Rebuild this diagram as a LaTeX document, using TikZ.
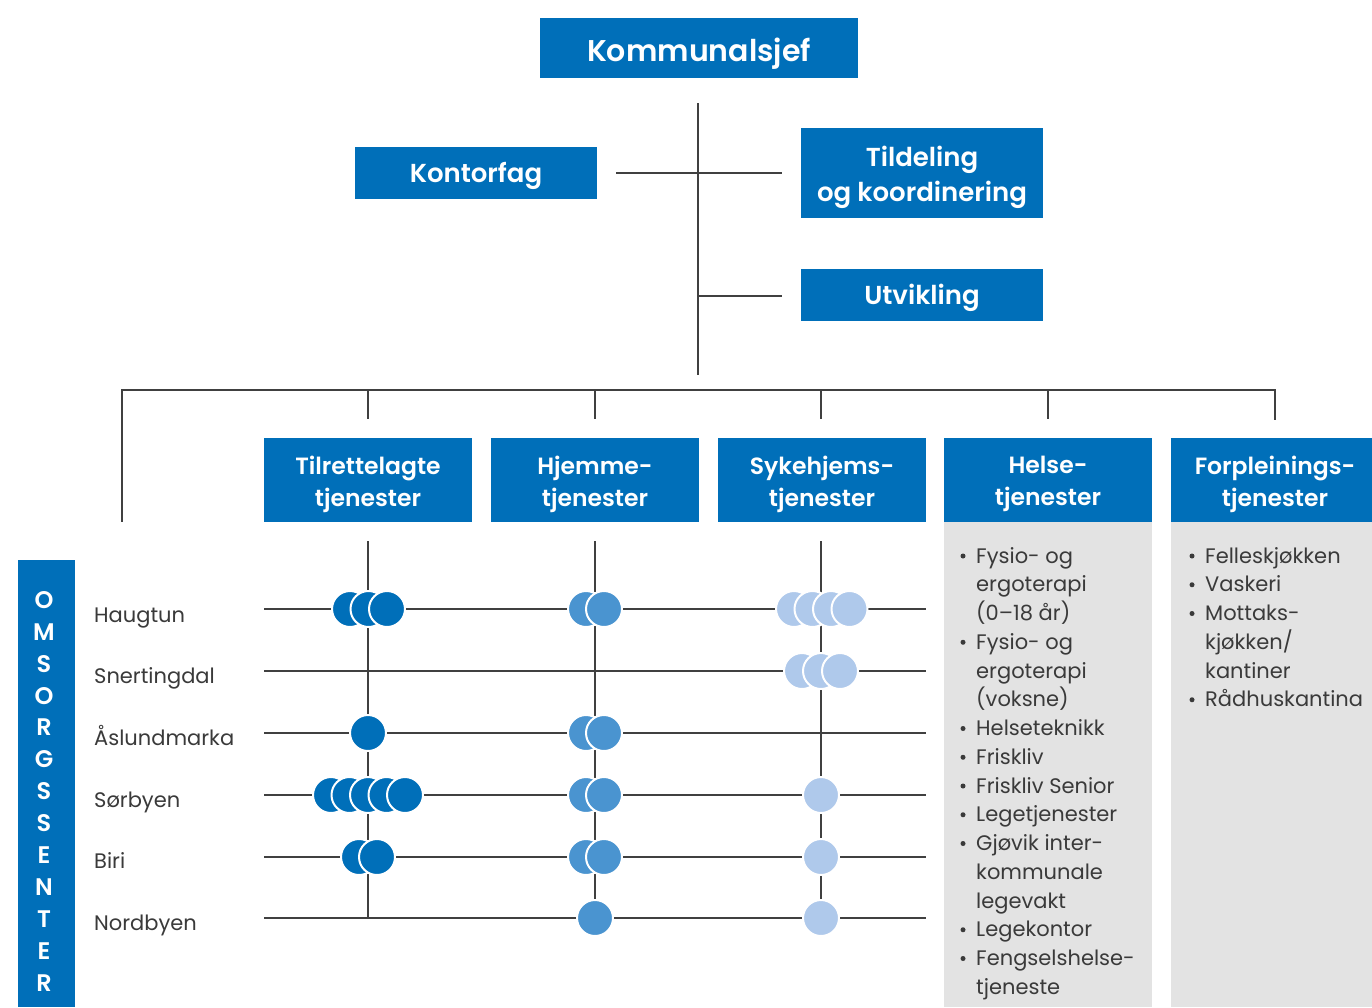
\documentclass[tikz,border=0pt]{standalone}
\usepackage{fontspec}
\setmainfont{Poppins}[BoldFont={Poppins SemiBold}]
\definecolor{boxblue}{RGB}{0,111,185}
\definecolor{midblue}{RGB}{74,148,208}
\definecolor{lightblue}{RGB}{175,201,235}
\definecolor{panelgray}{RGB}{227,227,227}
\definecolor{linegray}{RGB}{64,64,64}
\definecolor{textgray}{RGB}{58,58,58}
\tikzset{
  conn/.style={draw=linegray, line width=2pt},
  topbox/.style={fill=boxblue, text=white, inner sep=0pt, align=center, font=\fontsize{26}{35}\selectfont\bfseries},
  colbox/.style={fill=boxblue, text=white, inner sep=0pt, minimum width=208pt, minimum height=84pt, align=center, font=\fontsize{23.5}{32}\selectfont\bfseries},
  dotA/.style={circle, fill=boxblue, draw=white, line width=2pt, minimum size=36pt, inner sep=0pt},
  dotB/.style={circle, fill=midblue, draw=white, line width=2pt, minimum size=36pt, inner sep=0pt},
  dotC/.style={circle, fill=lightblue, draw=white, line width=2pt, minimum size=36pt, inner sep=0pt},
  rowlabel/.style={anchor=base west, inner sep=0pt, text=textgray, font=\fontsize{21}{21}\selectfont},
  listitem/.style={anchor=base west, inner sep=0pt, text=textgray, font=\fontsize{21}{21}\selectfont},
  bul/.style={circle, fill=textgray, inner sep=0pt, minimum size=5pt},
  vletter/.style={anchor=center, inner sep=0pt, text=white, font=\fontsize{24}{24}\selectfont\bfseries}
}
\begin{document}
\begin{tikzpicture}[x=1pt,y=-1pt]
\useasboundingbox (0,0) rectangle (1372,1007);
\fill[white] (0,0) rectangle (1372,1007);

% top boxes
\fill[boxblue] (540,18) rectangle (858,78);
\fill[boxblue] (355,147) rectangle (597,199);
\fill[boxblue] (801,128) rectangle (1043,218);
\fill[boxblue] (801,269) rectangle (1043,321);
\node[topbox, fill=none, font=\fontsize{30}{34}\selectfont\bfseries] (ks) at (699,54) {Kommunalsjef};
\node[topbox, fill=none] (kf) at (476,176) {Kontorfag};
\node[topbox, fill=none] (tk) at (922,177) {Tildeling\\og koordinering};
\node[topbox, fill=none] (ut) at (922,298) {Utvikling};

% top connectors
\coordinate (vtop) at (698,103);
\coordinate (vbot) at (698,375);
\coordinate (hkl) at (616,173);
\coordinate (hkr) at (782,173);
\coordinate (hum) at (698,296);
\coordinate (hur) at (782,296);
\draw[conn] (vtop) -- (vbot);
\draw[conn] (hkl) -- (hkr);
\draw[conn] (hum) -- (hur);

% bus
\coordinate (b0) at (122,521);
\coordinate (b1) at (122,390);
\coordinate (b6) at (1275,390);
\coordinate (b6d) at (1275,419);
\draw[conn, line cap=rect] (b0) -- (b1) -- (b6) -- (b6d);
\foreach \xx/\nm in {368/d1,595/d2,821/d3,1048/d4}{
  \coordinate (\nm t) at (\xx,390);
  \coordinate (\nm b) at (\xx,419);
  \draw[conn] (\nm t) -- (\nm b);
}

% column boxes and panels
\fill[panelgray] (944,521) rectangle (1152,1007);
\fill[panelgray] (1171,521) rectangle (1379,1007);
\foreach \xx in {264,491,718,944,1171}{
  \fill[boxblue] (\xx,438) rectangle ({\xx+208},522);
}
\node[colbox, fill=none] (c1) at (368,484) {Tilrettelagte\\tjenester};
\node[colbox, fill=none] (c2) at (595,484) {Hjemme-\\tjenester};
\node[colbox, fill=none] (c3) at (822,484) {Sykehjems-\\tjenester};
\node[colbox, fill=none] (c4) at (1048,484) {Helse-\\tjenester};
\node[colbox, fill=none] (c5) at (1275,484) {Forpleinings-\\tjenester};

% omsorgssenter bar
\fill[boxblue] (18,560) rectangle (75,1007);
\foreach \L [count=\i from 0] in {O,M,S,O,R,G,S,S,E,N,T,E,R}{
  \node[vletter] (om\i) at (44,{600+31.9*\i}) {\L};
}

% row labels
\node[rowlabel] (l1) at (94,622) {Haugtun};
\node[rowlabel] (l2) at (94,683) {Snertingdal};
\node[rowlabel] (l3) at (94,745) {Åslundmarka};
\node[rowlabel] (l4) at (94,807) {Sørbyen};
\node[rowlabel] (l5) at (94,868) {Biri};
\node[rowlabel] (l6) at (94,930) {Nordbyen};

% grid lines
\foreach \yy [count=\i] in {609,671,733,795,857,918}{
  \coordinate (ra\i) at (264,\yy);
  \coordinate (rb\i) at (926,\yy);
  \draw[conn] (ra\i) -- (rb\i);
}
\foreach \xx/\nm in {368/va,595/vb,821/vc}{
  \coordinate (\nm t) at (\xx,541);
  \coordinate (\nm b) at (\xx,918);
  \draw[conn] (\nm t) -- (\nm b);
}

% dots: Haugtun
\node[dotA] (hT1) at (350,609) {};
\node[dotA] (hT2) at (368.5,609) {};
\node[dotA] (hT3) at (387,609) {};
\node[dotB] (hH1) at (586,609) {};
\node[dotB] (hH2) at (604,609) {};
\node[dotC] (hS1) at (794,609) {};
\node[dotC] (hS2) at (812.5,609) {};
\node[dotC] (hS3) at (831,609) {};
\node[dotC] (hS4) at (849.5,609) {};
% Snertingdal
\node[dotC] (sS1) at (802,671) {};
\node[dotC] (sS2) at (821,671) {};
\node[dotC] (sS3) at (840,671) {};
% Aslundmarka
\node[dotA] (aT1) at (368,733) {};
\node[dotB] (aH1) at (586,733) {};
\node[dotB] (aH2) at (604,733) {};
% Sorbyen
\node[dotA] (oT1) at (331,795) {};
\node[dotA] (oT2) at (349.5,795) {};
\node[dotA] (oT3) at (368,795) {};
\node[dotA] (oT4) at (386.5,795) {};
\node[dotA] (oT5) at (405,795) {};
\node[dotB] (oH1) at (586,795) {};
\node[dotB] (oH2) at (604,795) {};
\node[dotC] (oS1) at (821,795) {};
% Biri
\node[dotA] (bT1) at (359,857) {};
\node[dotA] (bT2) at (377,857) {};
\node[dotB] (bH1) at (586,857) {};
\node[dotB] (bH2) at (604,857) {};
\node[dotC] (bS1) at (821,857) {};
% Nordbyen
\node[dotB] (nH1) at (595,918) {};
\node[dotC] (nS1) at (821,918) {};

% Helse list
\foreach \t/\b [count=\i from 0] in {{Fysio- og}/1,{ergoterapi}/0,{(0–18 år)}/0,{Fysio- og}/1,{ergoterapi}/0,{(voksne)}/0,{Helseteknikk}/1,{Friskliv}/1,{Friskliv Senior}/1,{Legetjenester}/1,{Gjøvik inter-}/1,{kommunale}/0,{legevakt}/0,{Legekontor}/1,{Fengselshelse-}/1,{tjeneste}/0}{
  \node[listitem] (hl\i) at (976,{563+28.75*\i}) {\t};
  \ifnum\b=1 \node[bul] (hb\i) at (963,{556+28.75*\i}) {};\fi
}
% Forpleining list
\foreach \t/\b [count=\i from 0] in {{Felleskjøkken}/1,{Vaskeri}/1,{Mottaks-}/1,{kjøkken/}/0,{kantiner}/0,{Rådhuskantina}/1}{
  \node[listitem] (fl\i) at (1205,{563+28.75*\i}) {\t};
  \ifnum\b=1 \node[bul] (fb\i) at (1192,{556+28.75*\i}) {};\fi
}
\end{tikzpicture}
\end{document}
